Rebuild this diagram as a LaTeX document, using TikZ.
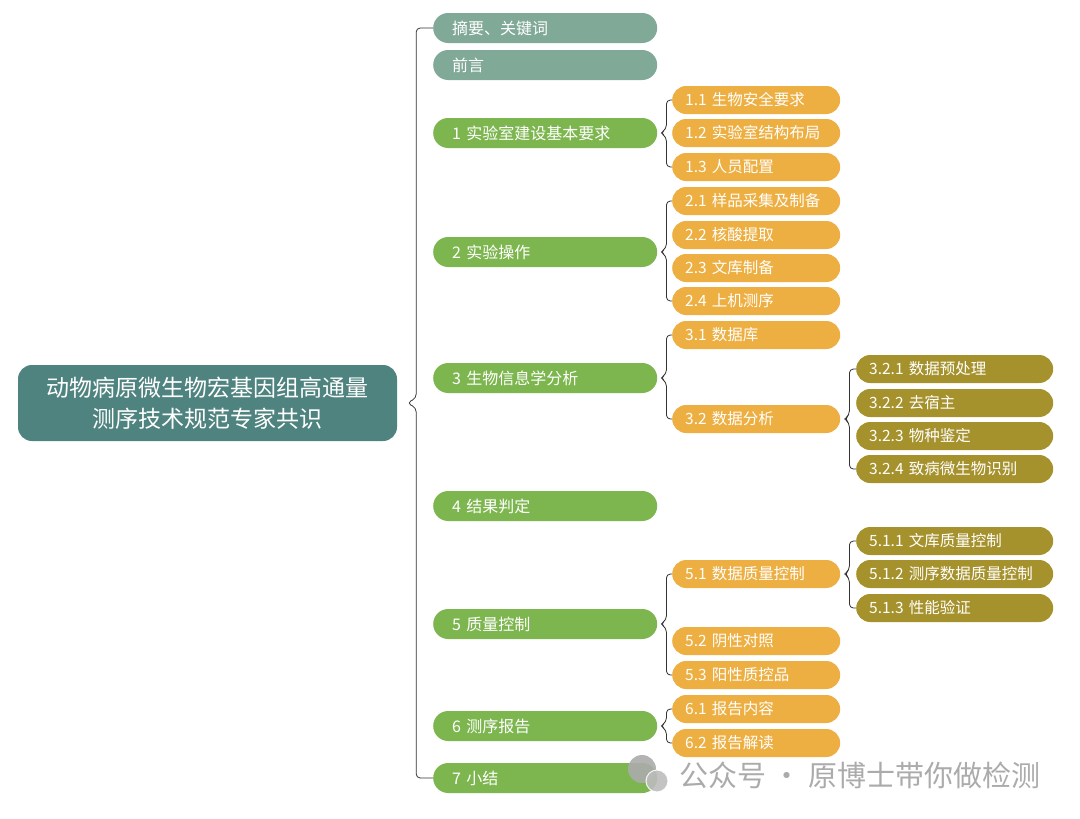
\documentclass[tikz,border=0pt]{standalone}
\usepackage{fontspec}
\setmainfont{Noto Sans CJK SC}
\definecolor{roott}{HTML}{4E837F}
\definecolor{headg}{HTML}{80A998}
\definecolor{secg}{HTML}{7DB64F}
\definecolor{suboj}{HTML}{EDAF41}
\definecolor{detol}{HTML}{A6922D}
\definecolor{markg}{HTML}{ABABAB}

\begin{document}
\begin{tikzpicture}[x=1pt, y=-1pt, anchor=west,
  topic/.style={rectangle, fill=roott, rounded corners=14pt, minimum width=379pt, minimum height=76pt, text=white, align=center, font=\fontsize{23}{31}\selectfont},
  sec/.style={rectangle, fill=secg, rounded corners=15pt, minimum height=30pt, text width=186pt, inner xsep=19pt, inner ysep=0pt, align=left, text=white, font=\fontsize{16}{18}\selectfont},
  head/.style={sec, fill=headg},
  sub/.style={rectangle, fill=suboj, rounded corners=14pt, minimum height=28pt, text width=142pt, inner xsep=13pt, inner ysep=0pt, align=left, text=white, font=\fontsize{15.5}{18}\selectfont},
  det/.style={sub, fill=detol, text width=171pt},
  bkt/.style={draw=black!80, line width=0.8pt, rounded corners=4pt}]
  \useasboundingbox (0,0) rectangle (1080,819);
  \node[topic, anchor=center] (root) at (207.5,403) {动物病原微生物宏基因组高通量\\测序技术规范专家共识};

   \node[head] (abs) at (433,28) {摘要、关键词};
   \node[head] (pre) at (433,65) {前言};
   \node[sec] (s1) at (433,133) {1 实验室建设基本要求};
   \node[sec] (s2) at (433,252) {2 实验操作};
   \node[sec] (s3) at (433,378) {3 生物信息学分析};
   \node[sec] (s4) at (433,506) {4 结果判定};
   \node[sec] (s5) at (433,624) {5 质量控制};
   \node[sec] (s6) at (433,726) {6 测序报告};
   \node[sec] (s7) at (433,778) {7 小结};

   \node[sub] (s1a) at (672,100) {1.1 生物安全要求};
   \node[sub] (s1b) at (672,133) {1.2 实验室结构布局};
   \node[sub] (s1c) at (672,167) {1.3 人员配置};
   \node[sub] (s2a) at (672,201) {2.1 样品采集及制备};
   \node[sub] (s2b) at (672,235) {2.2 核酸提取};
   \node[sub] (s2c) at (672,268) {2.3 文库制备};
   \node[sub] (s2d) at (672,301) {2.4 上机测序};
   \node[sub] (s3a) at (672,335) {3.1 数据库};
   \node[sub] (s3b) at (672,419) {3.2 数据分析};
   \node[sub] (s5a) at (672,574) {5.1 数据质量控制};
   \node[sub] (s5b) at (672,641) {5.2 阴性对照};
   \node[sub] (s5c) at (672,675) {5.3 阳性质控品};
   \node[sub] (s6a) at (672,709) {6.1 报告内容};
   \node[sub] (s6b) at (672,743) {6.2 报告解读};

   \node[det] (s3b1) at (856,369) {3.2.1 数据预处理};
   \node[det] (s3b2) at (856,403) {3.2.2 去宿主};
   \node[det] (s3b3) at (856,436) {3.2.3 物种鉴定};
   \node[det] (s3b4) at (856,469) {3.2.4 致病微生物识别};
   \node[det] (s5a1) at (856,541) {5.1.1 文库质量控制};
   \node[det] (s5a2) at (856,574) {5.1.2 测序数据质量控制};
   \node[det] (s5a3) at (856,608) {5.1.3 性能验证};

   \draw[bkt] (abs.west) -| ([xshift=19pt, yshift=5pt]root.east) -- ([xshift=10pt]root.east) -- ([xshift=19pt, yshift=-5pt]root.east) |- (s7.west);
   \draw[bkt] (s1a.west) -| ([xshift=9pt, yshift=4pt]s1.east) -- ([xshift=3pt]s1.east) -- ([xshift=9pt, yshift=-4pt]s1.east) |- (s1c.west);
   \draw[bkt] (s2a.west) -| ([xshift=9pt, yshift=4pt]s2.east) -- ([xshift=3pt]s2.east) -- ([xshift=9pt, yshift=-4pt]s2.east) |- (s2d.west);
   \draw[bkt] (s3a.west) -| ([xshift=9pt, yshift=4pt]s3.east) -- ([xshift=3pt]s3.east) -- ([xshift=9pt, yshift=-4pt]s3.east) |- (s3b.west);
   \draw[bkt] (s5a.west) -| ([xshift=9pt, yshift=4pt]s5.east) -- ([xshift=3pt]s5.east) -- ([xshift=9pt, yshift=-4pt]s5.east) |- (s5c.west);
   \draw[bkt] (s6a.west) -| ([xshift=9pt, yshift=4pt]s6.east) -- ([xshift=3pt]s6.east) -- ([xshift=9pt, yshift=-4pt]s6.east) |- (s6b.west);
   \draw[bkt] (s3b1.west) -| ([xshift=9pt, yshift=4pt]s3b.east) -- ([xshift=4pt]s3b.east) -- ([xshift=9pt, yshift=-4pt]s3b.east) |- (s3b4.west);
   \draw[bkt] (s5a1.west) -| ([xshift=9pt, yshift=4pt]s5a.east) -- ([xshift=4pt]s5a.east) -- ([xshift=9pt, yshift=-4pt]s5a.east) |- (s5a3.west);

   \fill[markg, opacity=0.9] (642,769) circle (14);
   \fill[markg!80, opacity=0.9, draw=white, line width=1pt] (657,781) circle (11);
   \node[text=markg, inner sep=0pt, font=\fontsize{29}{30}\selectfont] (mark) at (679,775) {公众号 · 原博士带你做检测};
 \end{tikzpicture}
\end{document}
